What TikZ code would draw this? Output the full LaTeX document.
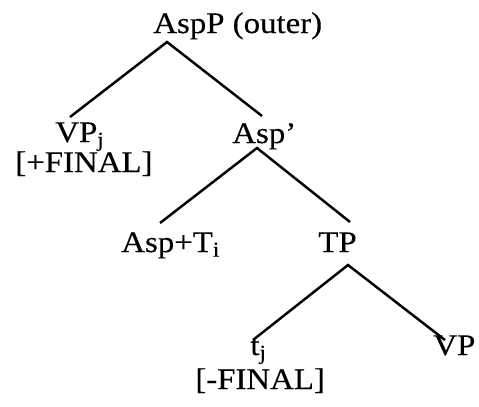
\documentclass[tikz,border=0pt]{standalone}
\usepackage{fontspec}
\setmainfont[FakeStretch=1.1,FakeBold=0.3]{Liberation Serif}
\usepackage{tikz}

\begin{document}
\begin{tikzpicture}[
  x=0.02cm, y=-0.02cm,
  cat/.style={inner sep=0pt, anchor=base west, font=\fontsize{17}{20}\selectfont},
  branch/.style={line width=1.4pt}
]
\useasboundingbox (0,0) rectangle (479,406);

% labels, placed by their base line
\node (aspp) [cat] at (153,33) {AspP (outer)};
\node (vpj) [cat] at (55,142) {VP\textsubscript{j}};
\node (plusfin) [cat] at (15,172) {[+FINAL]};
\node (aspbar) [cat] at (232,143) {Asp'};
\node (asptense) [cat] at (121,252) {Asp+T\textsubscript{i}};
\node (tp) [cat] at (318,252) {TP};
\node (tj) [cat] at (250,355) {t\textsubscript{j}};
\node (minusfin) [cat] at (195,389) {[-FINAL]};
\node (vp) [cat] at (433,355) {VP};

% branches
\draw [branch] ([shift={(15,-25)}]vpj.base west) -- ([shift={(14,9)}]aspp.base west) -- ([shift={(30,-27)}]aspbar.base west);
\draw [branch] ([shift={(39,-29)}]asptense.base west) -- ([shift={(25,5)}]aspbar.base west) -- ([shift={(32,-30)}]tp.base west);
\draw [branch] ([shift={(3,-15)}]tj.base west) -- ([shift={(30,13)}]tp.base west) -- ([shift={(12,-15)}]vp.base west);

\end{tikzpicture}
\end{document}
